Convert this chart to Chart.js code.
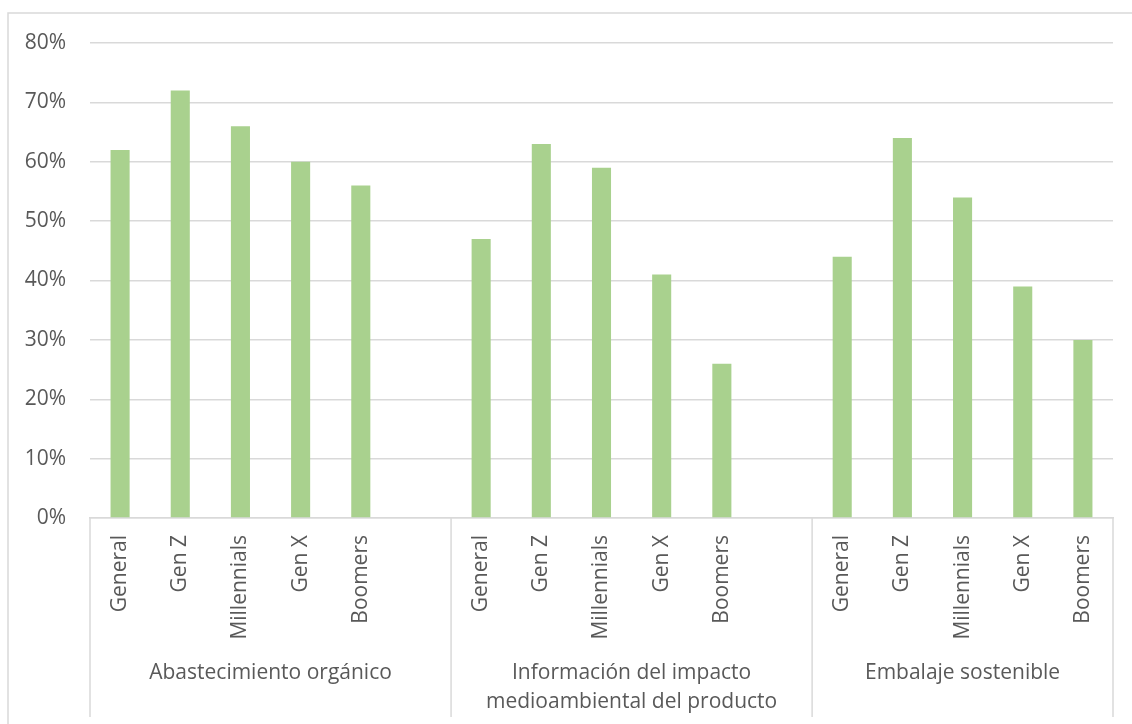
<!DOCTYPE html>
<html>
<head>
<meta charset="utf-8">
<script src="https://cdn.jsdelivr.net/npm/chart.js@4/dist/chart.umd.min.js"></script>
<style>
  html, body { margin: 0; padding: 0; background: #ffffff; }
  #wrap { width: 1132px; height: 724px; position: relative; }
</style>
</head>
<body>
<div id="wrap"><canvas id="c" width="1132" height="724"></canvas></div>
<script>
// ---- Data ----
const groups = ["Abastecimiento orgánico", ["Información del impacto", "medioambiental del producto"], "Embalaje sostenible"];
const generations = ["General", "Gen Z", "Millennials", "Gen X", "Boomers"];
const organicValues = [0.62, 0.72, 0.66, 0.60, 0.56];
const impactValues = [0.47, 0.63, 0.59, 0.41, 0.26];
const packagingValues = [0.44, 0.64, 0.54, 0.39, 0.30];
const yTicks = [0, 0.1, 0.2, 0.3, 0.4, 0.5, 0.6, 0.7, 0.8];

// Build category list: groups 1 and 2 are followed by an empty slot
const labels = [...generations, "", ...generations, "", ...generations];
const values = [...organicValues, null, ...impactValues, null, ...packagingValues];
// group index ranges (start, end inclusive) in the category list
const groupRanges = [[0, 5], [6, 11], [12, 16]];

const TEXT = "#595959";
const GRID = "#D9D9D9";
const FONT = "'Open Sans', 'DejaVu Sans', sans-serif";
const FS = 21;

const decorPlugin = {
  id: "decor",
  beforeDraw(chart) {
    const ctx = chart.ctx;
    ctx.save();
    ctx.fillStyle = "#ffffff";
    ctx.fillRect(0, 0, chart.width, chart.height);
    ctx.strokeStyle = GRID;
    ctx.lineWidth = 1.5;
    ctx.strokeRect(8, 13, 1400, 900);
    ctx.restore();
  },
  afterDraw(chart) {
    const ctx = chart.ctx;
    const xs = chart.scales.x;
    const half = (xs.getPixelForValue(1) - xs.getPixelForValue(0)) / 2;
    const top = chart.chartArea.bottom;
    const bottom = top + 199;
    ctx.save();
    ctx.strokeStyle = GRID;
    ctx.lineWidth = 1.5;
    const bounds = [xs.getPixelForValue(0) - half];
    groupRanges.forEach(r => bounds.push(xs.getPixelForValue(r[1]) + half));
    bounds.forEach(b => {
      ctx.beginPath();
      ctx.moveTo(b, top);
      ctx.lineTo(b, bottom);
      ctx.stroke();
    });
    ctx.fillStyle = TEXT;
    ctx.font = FS + "px " + FONT;
    ctx.textAlign = "center";
    ctx.textBaseline = "middle";
    groupRanges.forEach((r, i) => {
      const left = xs.getPixelForValue(r[0]) - half;
      const right = xs.getPixelForValue(r[1]) + half;
      const cx = (left + right) / 2;
      const lines = Array.isArray(groups[i]) ? groups[i] : [groups[i]];
      lines.forEach((t, j) => ctx.fillText(t, cx, top + 155 + j * 29));
    });
    ctx.restore();
  }
};

new Chart(document.getElementById("c"), {
  type: "bar",
  data: {
    labels: labels,
    datasets: [{
      data: values,
      backgroundColor: "#A9D18E",
      borderWidth: 0,
      categoryPercentage: 1.0,
      barPercentage: 0.317
    }]
  },
  options: {
    responsive: false,
    animation: false,
    layout: { padding: { left: 0, top: 43, right: 19, bottom: 0 } },
    plugins: { legend: { display: false }, tooltip: { enabled: false } },
    scales: {
      x: {
        grid: { display: false, drawTicks: false },
        border: { display: true, color: GRID, width: 1.5 },
        ticks: {
          autoSkip: false,
          minRotation: 90,
          maxRotation: 90,
          padding: 17,
          color: TEXT,
          font: { family: FONT, size: FS }
        },
        afterFit(s) { s.height = 206; }
      },
      y: {
        min: 0,
        max: 0.8,
        afterBuildTicks(s) { s.ticks = yTicks.map(v => ({ value: v })); },
        grid: { color: GRID, lineWidth: 1.5, drawTicks: false },
        border: { display: false },
        ticks: {
          padding: 24,
          color: TEXT,
          font: { family: FONT, size: FS },
          callback: v => Math.round(v * 100) + "%"
        },
        afterFit(s) { s.width = 90; }
      }
    }
  },
  plugins: [decorPlugin]
});
</script>
</body>
</html>
